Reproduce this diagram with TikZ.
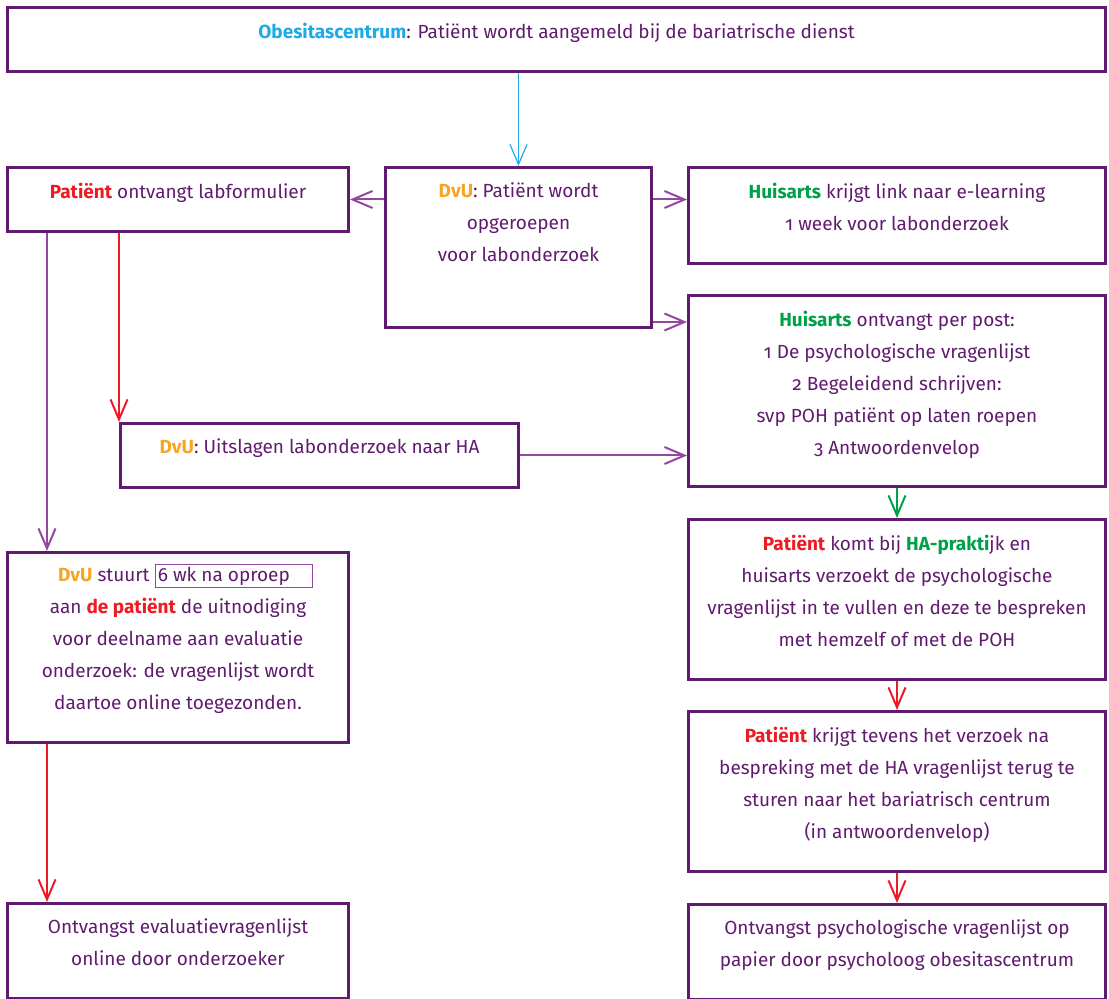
\documentclass[tikz,border=0pt]{standalone}
\usepackage{fontspec}
\setmainfont{Fira Sans}[Numbers=OldStyle]
\usetikzlibrary{arrows.meta}
\definecolor{paars}{RGB}{97,27,110}
\definecolor{lichtpaars}{RGB}{146,72,160}
\definecolor{blauw}{RGB}{30,170,230}
\definecolor{oranje}{RGB}{245,165,35}
\definecolor{rood}{RGB}{237,28,36}
\definecolor{groen}{RGB}{0,160,75}
\newcommand{\wie}[2]{\textbf{\color{#1}#2}}

\begin{document}
\begin{tikzpicture}[x=0.5pt,y=-0.5pt,
  blok/.style={rectangle,draw=paars,line width=1.5pt,anchor=north west,inner sep=0pt},
  tekst/.style={anchor=north,align=center,text=paars,inner sep=0pt,font=\fontsize{9.5}{16}\selectfont},
  pijl/.style={-{Straight Barb[length=10pt,width=8.5pt]},line width=1pt,draw=lichtpaars}]
\useasboundingbox (0,0) rectangle (1109,999);
%Blokken
\node[blok,minimum width=549pt,minimum height=32pt] at (6,6) (centrum) {};
\node[blok,minimum width=170.5pt,minimum height=32pt] at (6,166) (lab) {};
\node[blok,minimum width=133pt,minimum height=80pt] at (384,166) (oproep) {};
\node[blok,minimum width=208.5pt,minimum height=48pt] at (687,166) (link) {};
\node[blok,minimum width=208.5pt,minimum height=95.5pt] at (687,294) (post) {};
\node[blok,minimum width=199pt,minimum height=32pt] at (119,422) (uitslag) {};
\node[blok,minimum width=170.5pt,minimum height=95pt] at (6,551) (stuurt) {};
\node[blok,minimum width=208.5pt,minimum height=80pt] at (687,518) (komt) {};
\node[blok,minimum width=208.5pt,minimum height=80pt] at (687,710) (krijgt) {};
\node[blok,minimum width=170.5pt,minimum height=47.5pt] at (6,902) (evaluatie) {};
\node[blok,minimum width=208.5pt,minimum height=47.5pt] at (687,903) (psycholoog) {};
%Teksten
\node[tekst] at ([yshift=-8.3pt]centrum.north) (tcentrum) {\wie{blauw}{Obesitascentrum}: Patiënt wordt aangemeld bij de bariatrische dienst};
\node[tekst] at ([yshift=-8.3pt]lab.north) (tlab) {\wie{rood}{Patiënt} ontvangt labformulier};
\node[tekst] at ([yshift=-8.3pt]oproep.north) (toproep) {\wie{oranje}{DvU}: Patiënt wordt\\opgeroepen\\voor labonderzoek};
\node[tekst] at ([yshift=-8.3pt]link.north) (tlink) {\wie{groen}{Huisarts} krijgt link naar e-learning\\1 week voor labonderzoek};
\node[tekst] at ([yshift=-8.3pt]post.north) (tpost) {\wie{groen}{Huisarts} ontvangt per post:\\1 De psychologische vragenlijst\\2 Begeleidend schrijven:\\svp POH patiënt op laten roepen\\3 Antwoordenvelop};
\node[tekst] at ([yshift=-8.3pt]uitslag.north) (tuitslag) {\wie{oranje}{DvU}: Uitslagen labonderzoek naar HA};
\node[tekst] at ([yshift=-8.3pt]stuurt.north) (tstuurt) {\hspace*{7.5pt}\wie{oranje}{DvU} stuurt \smash{\setlength\fboxrule{0.6pt}\setlength\fboxsep{1pt}\fcolorbox{lichtpaars}{white}{\makebox[76pt][l]{6 wk na oproep}}}\\aan \wie{rood}{de patiënt} de uitnodiging\\voor deelname aan evaluatie\\onderzoek: de vragenlijst wordt\\daartoe online toegezonden.};
\node[tekst] at ([yshift=-8.3pt]komt.north) (tkomt) {\wie{rood}{Patiënt} komt bij \wie{groen}{HA-prakti}jk en\\huisarts verzoekt de psychologische\\vragenlijst in te vullen en deze te bespreken\\met hemzelf of met de POH};
\node[tekst] at ([yshift=-8.3pt]krijgt.north) (tkrijgt) {\wie{rood}{Patiënt} krijgt tevens het verzoek na\\bespreking met de HA vragenlijst terug te\\sturen naar het bariatrisch centrum\\(in antwoordenvelop)};
\node[tekst] at ([yshift=-8.3pt]evaluatie.north) (tevaluatie) {Ontvangst evaluatievragenlijst\\online door onderzoeker};
\node[tekst] at ([yshift=-8.3pt]psycholoog.north) (tpsycholoog) {Ontvangst psychologische vragenlijst op\\papier door psycholoog obesitascentrum};
%Pijlen
\coordinate (oproepuit) at ([yshift=3.5pt]oproep.south east);
\coordinate (labuit1) at ([xshift=20.5pt]lab.south west);
\coordinate (labuit2) at ([xshift=56.5pt]lab.south west);
\coordinate (stuurtuit) at ([xshift=20.5pt]stuurt.south west);
\draw[pijl,draw=blauw,line width=0.6pt] (oproep.north |- centrum.south) -- (oproep.north);
\draw[pijl] (oproep.west |- lab.east) -- (lab.east);
\draw[pijl] (oproep.east |- lab.east) -- (link.west |- lab.east);
\draw[pijl] (oproepuit) -- (post.west |- oproepuit);
\draw[pijl] (labuit1) -- (labuit1 |- stuurt.north);
\draw[pijl,draw=rood] (labuit2) -- (labuit2 |- uitslag.north);
\draw[pijl] (uitslag.east) -- (post.west |- uitslag.east);
\draw[pijl,draw=groen] (post.south) -- (komt.north);
\draw[pijl,draw=rood] (komt.south) -- (krijgt.north);
\draw[pijl,draw=rood] (krijgt.south) -- (psycholoog.north);
\draw[pijl,draw=rood] (stuurtuit) -- (stuurtuit |- evaluatie.north);
\end{tikzpicture}
\end{document}
